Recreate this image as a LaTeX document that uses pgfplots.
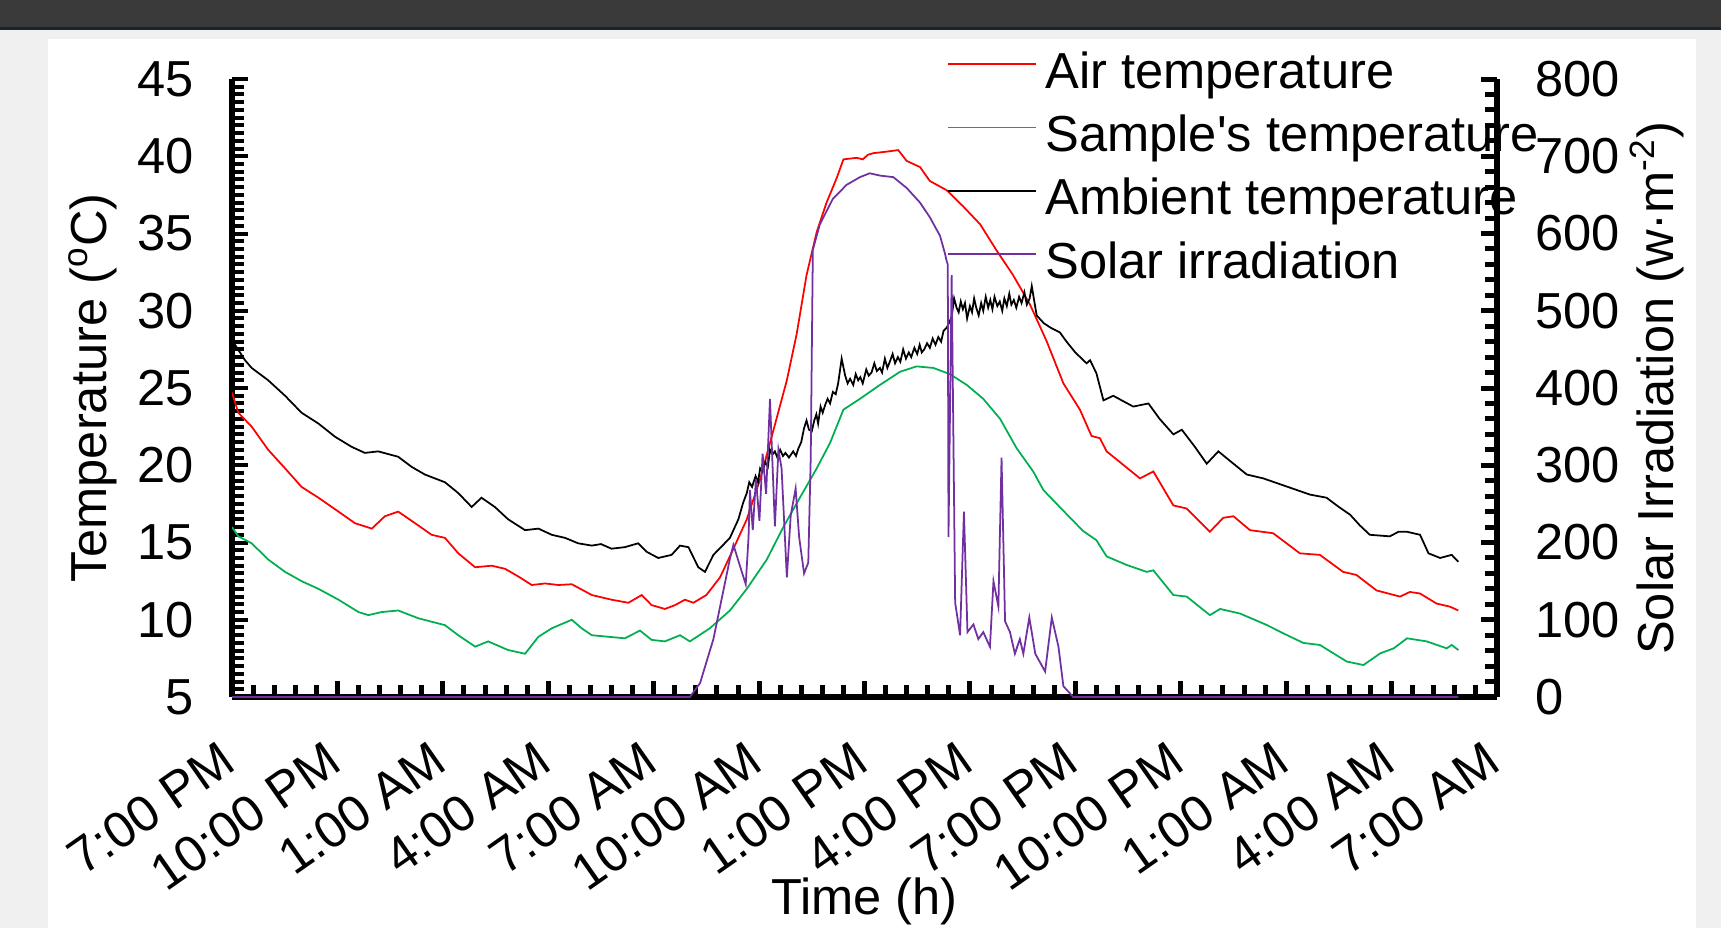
\documentclass[border=0pt]{standalone}
\usepackage{fontspec}
\setmainfont{Liberation Sans}
\usepackage{pgfplots}
\usepackage{pgfplotstable}
\pgfplotsset{compat=1.18}

\definecolor{airred}{RGB}{255,0,0}
\definecolor{samplegreen}{RGB}{0,176,80}
\definecolor{solarpurple}{RGB}{112,48,160}
\definecolor{topbar}{RGB}{58,58,58}
\definecolor{topline}{RGB}{24,36,46}
\definecolor{panelgrey}{RGB}{240,240,240}

\newcommand\labfont{\fontsize{14.4}{17.3}\selectfont}

% time in hours from 7:00 PM, temperatures in degC
\pgfplotstableread{
h T
0 24.7
0.18 23.4
0.56 22.5
1.03 21.0
1.51 19.8
1.98 18.6
2.46 17.9
3.03 17.0
3.5 16.25
3.98 15.9
4.35 16.7
4.73 17.0
5.21 16.25
5.68 15.5
6.06 15.3
6.44 14.3
6.92 13.4
7.39 13.5
7.77 13.3
8.15 12.8
8.53 12.25
8.91 12.35
9.29 12.25
9.67 12.3
10.24 11.6
10.8 11.3
11.28 11.1
11.66 11.6
11.94 10.95
12.32 10.7
12.61 10.95
12.89 11.3
13.13 11.1
13.5 11.6
13.89 12.75
14.27 14.6
14.65 16.5
15.03 19.1
15.4 22.2
15.79 25.5
16.07 28.5
16.35 32.3
16.64 35.1
16.92 37.0
17.21 38.6
17.4 39.8
17.78 39.9
17.95 39.8
18.1 40.1
18.25 40.2
18.63 40.3
18.96 40.4
19.2 39.7
19.58 39.3
19.86 38.4
20.34 37.8
20.81 36.75
21.29 35.6
21.76 33.9
22.23 32.3
22.71 30.4
23.18 28.05
23.66 25.3
24.13 23.6
24.46 21.9
24.7 21.75
24.89 20.9
25.27 20.2
25.84 19.15
26.22 19.6
26.79 17.4
27.17 17.2
27.83 15.7
28.21 16.6
28.5 16.7
28.97 15.8
29.63 15.6
30.39 14.3
30.96 14.2
31.62 13.1
32.0 12.9
32.57 11.9
33.24 11.5
33.52 11.8
33.81 11.7
34.28 11.05
34.66 10.85
34.9 10.6
}\airtable

\pgfplotstableread{
h T
0 16.0
0.18 15.4
0.56 14.95
1.03 13.9
1.51 13.1
1.98 12.5
2.46 12.0
3.03 11.3
3.6 10.5
3.88 10.3
4.26 10.5
4.73 10.6
5.3 10.1
6.06 9.65
6.44 9.0
6.92 8.26
7.29 8.6
7.86 8.04
8.34 7.8
8.72 8.9
9.1 9.45
9.67 10.0
9.95 9.45
10.24 9.0
10.71 8.9
11.18 8.8
11.61 9.3
11.94 8.7
12.32 8.6
12.75 9.0
13.03 8.6
13.6 9.45
14.17 10.6
14.65 12.0
15.22 13.9
15.69 16.0
16.16 17.9
16.64 19.8
17.02 21.45
17.4 23.6
17.87 24.3
18.44 25.2
19.01 26.05
19.48 26.4
19.96 26.3
20.43 25.9
20.91 25.2
21.38 24.3
21.86 23.0
22.33 21.1
22.8 19.6
23.09 18.4
23.66 17.05
24.22 15.75
24.6 15.15
24.89 14.1
25.46 13.55
26.03 13.1
26.22 13.2
26.79 11.6
27.17 11.5
27.83 10.3
28.12 10.7
28.69 10.4
29.45 9.66
29.92 9.12
30.49 8.5
30.96 8.37
31.72 7.3
32.2 7.07
32.68 7.83
33.06 8.15
33.44 8.8
34.0 8.6
34.57 8.15
34.71 8.37
34.9 8.04
}\sampletable

\pgfplotstableread{
h T
0 28.1
0.37 26.8
0.56 26.3
1.03 25.5
1.51 24.5
1.98 23.4
2.46 22.7
2.93 21.85
3.4 21.2
3.78 20.8
4.16 20.9
4.73 20.55
5.11 19.9
5.49 19.4
6.06 18.9
6.44 18.2
6.82 17.3
7.1 17.9
7.48 17.3
7.86 16.5
8.34 15.8
8.72 15.9
9.1 15.5
9.48 15.3
9.85 14.95
10.24 14.8
10.5 14.9
10.8 14.6
11.18 14.7
11.56 14.95
11.8 14.4
12.13 14.0
12.51 14.2
12.75 14.8
12.99 14.7
13.27 13.4
13.46 13.1
13.7 14.2
14.0 14.9
14.17 15.3
14.41 16.5
14.55 17.6
14.65 18.2
14.72 18.9
14.8 18.6
14.9 19.3
14.97 18.9
15.03 19.8
15.1 19.6
15.18 20.2
15.25 19.9
15.31 21.0
15.38 20.7
15.45 20.9
15.52 20.5
15.6 21.0
15.68 20.6
15.75 20.8
15.85 20.5
15.97 20.9
16.05 20.6
16.12 21.1
16.2 21.5
16.28 22.4
16.35 22.9
16.42 22.3
16.5 22.2
16.57 22.9
16.63 23.3
16.68 22.7
16.75 23.8
16.81 23.4
16.88 23.9
16.95 24.3
17.02 24.0
17.1 24.75
17.18 24.6
17.25 25.3
17.35 26.9
17.45 25.8
17.52 25.3
17.59 25.6
17.68 25.2
17.75 25.9
17.82 25.5
17.88 25.7
17.95 25.3
18.05 26.2
18.12 25.8
18.2 26.0
18.28 26.6
18.35 26.1
18.44 26.3
18.5 26.0
18.58 26.9
18.65 26.3
18.72 26.7
18.8 27.2
18.87 26.6
18.95 27.0
19.02 26.7
19.1 27.5
19.18 26.9
19.26 27.3
19.33 27.0
19.42 27.6
19.5 27.2
19.57 27.8
19.63 27.3
19.7 27.5
19.78 27.9
19.86 27.6
19.94 28.2
20.02 27.8
20.1 28.3
20.18 28.0
20.25 28.7
20.34 28.9
20.42 29.3
20.48 29.6
20.55 30.8
20.62 30.2
20.68 29.9
20.74 30.6
20.8 30.1
20.86 30.5
20.92 29.5
21.0 30.3
21.06 29.9
21.12 30.8
21.18 30.2
21.25 29.7
21.32 30.5
21.38 30.0
21.45 30.9
21.52 30.2
21.58 30.7
21.64 30.1
21.7 30.9
21.78 30.3
21.85 30.6
21.92 30.0
21.98 30.8
22.05 30.3
22.12 31.1
22.18 30.4
22.25 30.7
22.32 30.2
22.4 30.9
22.47 30.5
22.55 31.2
22.62 30.4
22.7 30.8
22.76 31.6
22.84 30.5
22.9 29.7
23.1 29.2
23.3 28.9
23.56 28.6
23.75 28.0
24.0 27.3
24.32 26.6
24.42 26.8
24.6 25.95
24.8 24.2
25.08 24.5
25.4 24.1
25.65 23.8
26.08 24.0
26.4 23.0
26.79 22.0
27.03 22.3
27.4 21.2
27.74 20.1
28.07 20.9
28.5 20.1
28.88 19.4
29.35 19.15
29.92 18.7
30.3 18.4
30.68 18.1
31.15 17.9
31.5 17.3
31.82 16.8
32.1 16.1
32.38 15.5
32.95 15.4
33.2 15.7
33.43 15.7
33.81 15.5
34.05 14.3
34.38 14.0
34.71 14.2
34.9 13.75
}\ambienttable

% solar irradiation, W/m2
\pgfplotstableread{
h S
0 0
13.03 0
13.32 18
13.7 75
14.17 179
14.27 197
14.46 169
14.62 146
14.7 207
14.74 268
14.82 216
14.91 282
15.01 228
15.1 315
15.2 263
15.31 386
15.45 221
15.55 320
15.64 296
15.79 155
15.9 235
16.04 270
16.14 207
16.28 160
16.4 174
16.47 310
16.53 579
16.73 612
17.1 645
17.49 663
17.87 673
18.15 678
18.44 675
18.82 673
19.2 659
19.58 640
19.86 621
20.15 597
20.29 574
20.34 564
20.37 560
20.39 207
20.48 546
20.58 122
20.72 80
20.83 240
20.93 84
21.1 94
21.24 75
21.38 84
21.57 65
21.67 150
21.81 117
21.9 310
22.0 98
22.14 84
22.28 56
22.42 75
22.52 56
22.69 103
22.86 56
23.14 33
23.33 103
23.52 65
23.66 14
23.94 0
34.9 0
}\solartable

\pgfplotsset{
  twinaxis/.style={
    scale only axis,
    width=126.5mm, height=61.8mm,
    at={(23.2mm,23.1mm)}, anchor=south west,
    xmin=0, xmax=36,
    axis line style={-, line width=0.55mm, black},
    major tick length=1.6mm,
    minor tick length=1.2mm,
    tick align=inside,
    tick label style={font=\labfont},
    label style={font=\labfont},
    /pgf/number format/assume math mode=true,
  },
  series/.style={line width=0.5pt},
}

\begin{document}
\begin{tikzpicture}
\useasboundingbox (0,0) rectangle (172.1mm,92.8mm);
\clip (0,0) rectangle (172.1mm,92.8mm);
\fill[panelgrey] (0,0) rectangle (172.1mm,92.8mm);
\fill[topbar] (0,90.1mm) rectangle (172.1mm,92.8mm);
\fill[topline] (0,89.8mm) rectangle (172.1mm,90.1mm);
\fill[white] (4.8mm,0) rectangle (169.6mm,88.9mm);

\begin{axis}[twinaxis,
  axis x line*=bottom, axis y line*=left,
  xtick style={line width=0.5mm, black},
  ytick style={line width=0.4mm, black},
  ymin=5, ymax=45,
  ytick={5,10,...,45}, minor y tick num=9,
  xtick={0,3,...,36}, minor x tick num=4,
  xticklabels={7:00 PM,10:00 PM,1:00 AM,4:00 AM,7:00 AM,10:00 AM,1:00 PM,4:00 PM,7:00 PM,10:00 PM,1:00 AM,4:00 AM,7:00 AM},
  xticklabel style={xshift=-1.1mm, yshift=-2.5mm, rotate=35, anchor=north east},
  yticklabel style={xshift=-2.6mm},
  xlabel={Time (h)},
  xlabel style={at={(axis description cs:0.5,-0.273)}, anchor=north},
  ylabel={Temperature (\textsuperscript{o}C)},
  ylabel style={at={(axis description cs:-0.11,0.5)}, anchor=center},
]
\addplot[series, airred] table[x=h, y=T] {\airtable};
\addplot[series, samplegreen] table[x=h, y=T] {\sampletable};
\addplot[series, black] table[x=h, y=T] {\ambienttable};
\end{axis}

\begin{axis}[twinaxis,
  axis x line=none, axis y line*=right,
  ytick style={line width=0.5mm, black},
  ymin=0, ymax=800,
  ytick={0,100,...,800}, minor y tick num=4,
  yticklabel style={xshift=2.6mm},
  ylabel={Solar Irradiation (w·m\textsuperscript{-2})},
  ylabel style={at={(axis description cs:1.1265,0.5)}, anchor=center},
  legend cell align=left,
  legend style={at={(axis description cs:0.5644,1)}, anchor=north west,
    yshift=3.5mm, draw=none, fill=none, inner sep=0pt,
    row sep=0.72mm, column sep=0.2mm, font=\labfont},
  legend image code/.code={\draw[#1] (0mm,0.85mm) -- (8.8mm,0.85mm);},
]
\addlegendimage{series, airred}
\addlegendentry{Air temperature}
\addlegendimage{series, samplegreen}
\addlegendentry{Sample\textquotesingle s temperature}
\addlegendimage{series, black}
\addlegendentry{Ambient temperature}
\addplot[series, solarpurple] table[x=h, y=S] {\solartable};
\addlegendentry{Solar irradiation}
\end{axis}
\end{tikzpicture}
\end{document}
